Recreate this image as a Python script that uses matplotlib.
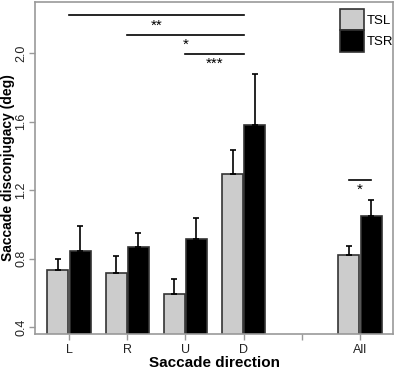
import matplotlib
matplotlib.use('Agg')
import matplotlib.pyplot as plt
import numpy as np

plt.rcParams['font.family'] = ['Liberation Sans', 'DejaVu Sans']

# data
directions = ['L', 'R', 'U', 'D', '', 'All']
group_pos = [1, 2, 3, 4, 6]
tsl_mean = [0.733, 0.716, 0.591, 1.296, 0.821]
tsl_err = [0.067, 0.097, 0.091, 0.137, 0.054]
tsr_mean = [0.843, 0.866, 0.916, 1.577, 1.051]
tsr_err = [0.146, 0.082, 0.121, 0.303, 0.093]

# significance brackets: (x1, x2, y, label)
sig_lines = [(1, 4, 2.22, '**'), (2, 4, 2.107, '*'), (3, 4, 1.996, '***')]
sig_all = (6, 1.26, '*')

spine_col = '#999999'
bw = 0.36
gap = 0.02

fig = plt.figure(figsize=(3.97, 3.71), dpi=100)
ax = fig.add_axes([0.0894, 0.0997, 0.9006, 0.8949])

x = np.array(group_pos, dtype=float)
x_tsl = x - bw / 2 - gap / 2
x_tsr = x + bw / 2 + gap / 2

ax.bar(x_tsl, tsl_mean, width=bw, color='#cccccc', edgecolor='#333333',
       linewidth=1.2, label='TSL', zorder=2)
ax.bar(x_tsr, tsr_mean, width=bw, color='black', edgecolor='#333333',
       linewidth=1.2, label='TSR', zorder=2)
ax.errorbar(x_tsl, tsl_mean, yerr=[np.zeros(len(x)), tsl_err], fmt='none',
            ecolor='black', elinewidth=1.2, capsize=2.5, capthick=1.2, zorder=3)
ax.errorbar(x_tsr, tsr_mean, yerr=[np.zeros(len(x)), tsr_err], fmt='none',
            ecolor='black', elinewidth=1.2, capsize=2.5, capthick=1.2, zorder=3)

for x1, x2, y, lab in sig_lines:
    ax.plot([x1, x2], [y, y], color='black', lw=1.2)
    ax.text((x1 + x2) / 2, y - 0.02, lab, ha='center', va='top', fontsize=11)

ax.plot([x_tsl[-1], x_tsr[-1]], [sig_all[1], sig_all[1]], color='black', lw=1.2)
ax.text(sig_all[0], sig_all[1] - 0.02, sig_all[2], ha='center', va='top', fontsize=11)

ax.set_xlim(0.424, 6.567)
ax.set_ylim(0.359, 2.298)
ax.set_xticks([1, 2, 3, 4, 5, 6])
ax.set_xticklabels(directions)
ax.set_yticks([0.4, 0.8, 1.2, 1.6, 2.0])
ax.set_yticklabels(['0.4', '0.8', '1.2', '1.6', '2.0'], rotation=90, va='center')
ax.tick_params(axis='both', colors=spine_col, labelcolor='#222222',
               labelsize=9, length=4, width=1)
ax.tick_params(axis='y', pad=2)

for s in ax.spines.values():
    s.set_color(spine_col)
    s.set_linewidth(1.2)

ax.set_xlabel('Saccade direction', fontsize=11, fontweight='bold', va='center')
ax.set_ylabel('Saccade disconjugacy (deg)', fontsize=10, fontweight='bold', va='center')
ax.xaxis.set_label_coords(0.5, -0.086)
ax.yaxis.set_label_coords(-0.077, 0.5)

leg = ax.legend(loc='upper right', bbox_to_anchor=(1.03, 1.012), frameon=False,
                fontsize=9.5, handlelength=1.8, handleheight=2.15,
                labelspacing=0.0, handletextpad=0.2, borderpad=0.3)

fig.savefig('out.png', dpi=100)
